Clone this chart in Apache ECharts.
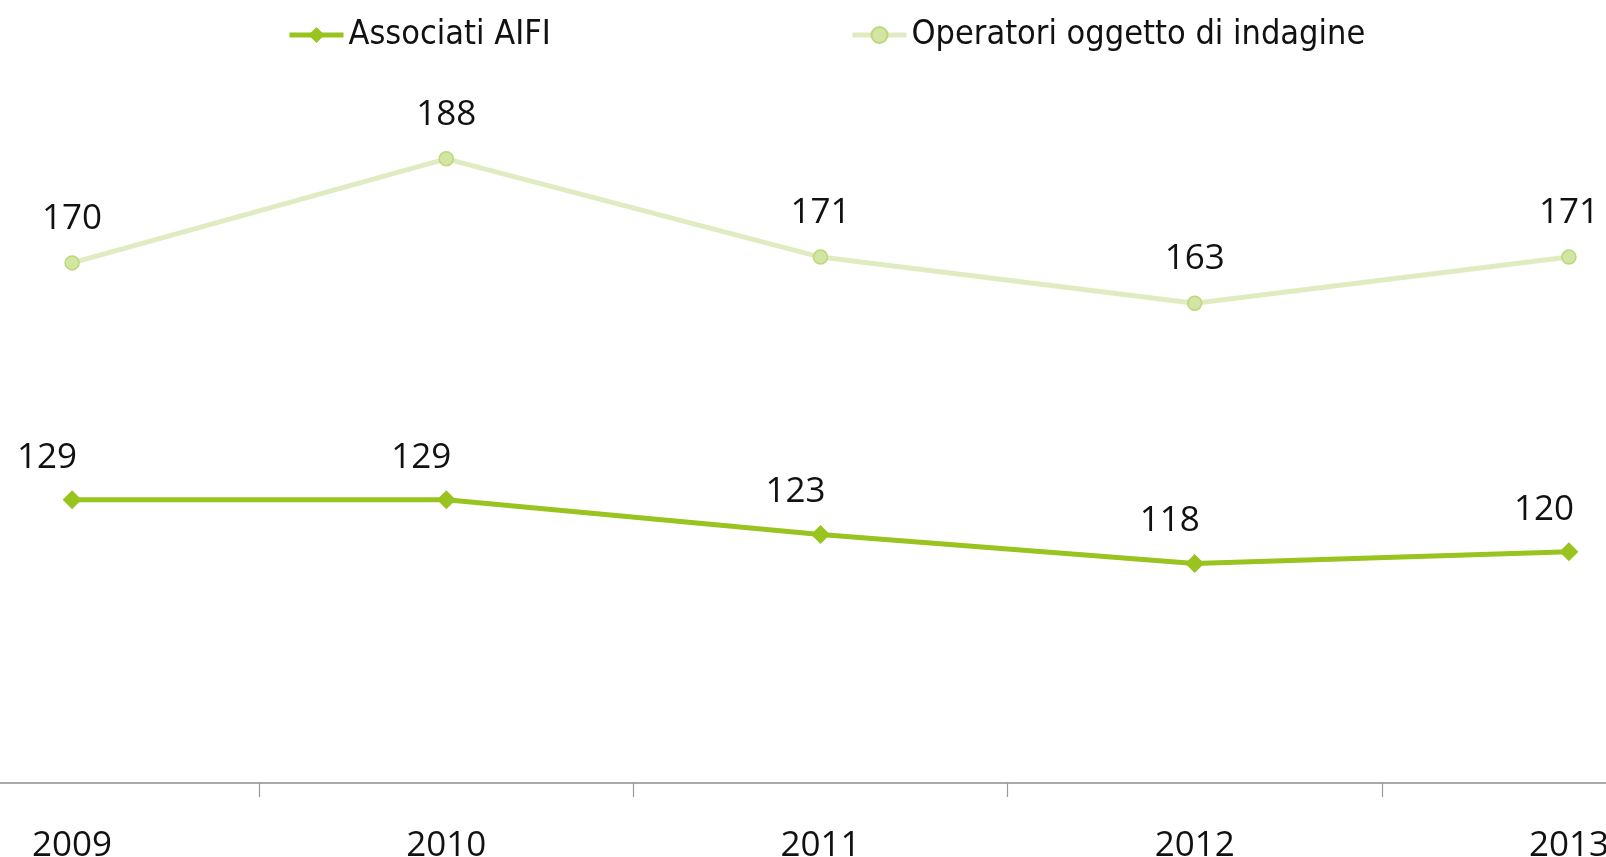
<!DOCTYPE html>
<html>
<head>
<meta charset="utf-8">
<script src="https://cdn.jsdelivr.net/npm/echarts@6/dist/echarts.min.js"></script>
<style>
html,body{margin:0;padding:0;background:#fff;}
#chart{width:1606px;height:857px;}
</style>
</head>
<body>
<div id="chart"></div>
<script>
const years = ['2009', '2010', '2011', '2012', '2013'];
const associatiAIFI = [129, 129, 123, 118, 120];
const operatoriIndagine = [170, 188, 171, 163, 171];
const seriesNames = ['Associati AIFI', 'Operatori oggetto di indagine'];

const labelFont = "'Open Sans', 'Noto Sans', sans-serif";
const legendFont = "'Liberation Sans Narrow', 'DejaVu Sans Condensed', sans-serif";

const chart = echarts.init(document.getElementById('chart'), null, {renderer: 'canvas'});
const legendBase = {
  top: 18,
  padding: 0,
  itemWidth: 54,
  itemHeight: 20,
  itemGap: 6,
  lineStyle: {width: 5},
  textStyle: {fontFamily: legendFont, fontSize: 34, color: '#111'}
};
chart.setOption({
  animation: false,
  backgroundColor: '#fff',
  legend: [
    Object.assign({}, legendBase, {left: 287, data: [seriesNames[0]]}),
    Object.assign({}, legendBase, {left: 850, data: [seriesNames[1]]})
  ],
  grid: {left: -115, right: -150, top: 89.5, bottom: 74, containLabel: false, outerBoundsMode: 'none'},
  xAxis: {
    type: 'category',
    data: years,
    boundaryGap: true,
    axisLine: {show: true, lineStyle: {color: '#8c8c8c', width: 1.5}},
    axisTick: {show: true, length: 14, lineStyle: {color: '#9a9a9a', width: 1.2}},
    axisLabel: {interval: 0, margin: 46, fontFamily: labelFont, fontSize: 35, lineHeight: 35, color: '#111', hideOverlap: false},
    splitLine: {show: false}
  },
  yAxis: {
    type: 'value',
    min: 80,
    max: 200,
    show: false,
    splitLine: {show: false}
  },
  series: [
    {
      name: seriesNames[1],
      type: 'line',
      data: operatoriIndagine,
      symbol: 'circle',
      symbolSize: 14,
      lineStyle: {color: '#dfecc2', width: 5},
      itemStyle: {color: '#d2e5a3', borderColor: '#bcd87a', borderWidth: 1.5},
      label: {show: true, position: 'top', distance: 19, fontFamily: labelFont, fontSize: 35, lineHeight: 35, color: '#111'},
      z: 2
    },
    {
      name: seriesNames[0],
      type: 'line',
      data: associatiAIFI,
      symbol: 'diamond',
      symbolSize: 19,
      lineStyle: {color: '#99c31e', width: 5},
      itemStyle: {color: '#99c31e', borderWidth: 0},
      label: {show: true, position: 'top', distance: 15, offset: [-25, 0], fontFamily: labelFont, fontSize: 35, lineHeight: 35, color: '#111'},
      z: 3
    }
  ]
});
</script>
</body>
</html>
